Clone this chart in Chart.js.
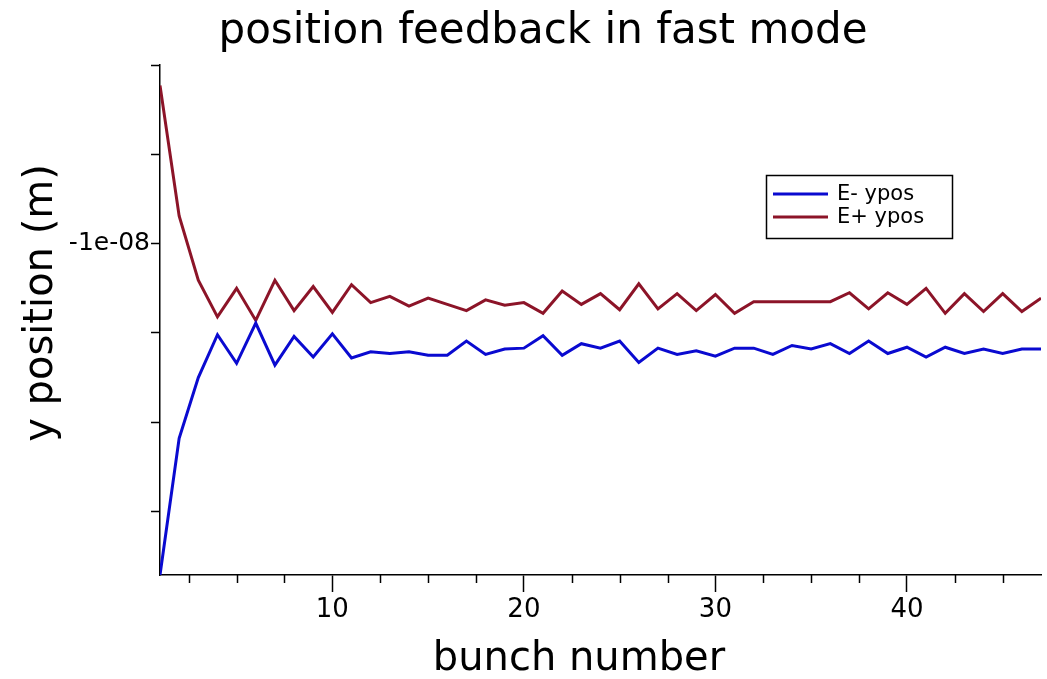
<!DOCTYPE html>
<html>
<head>
<meta charset="utf-8">
<script src="https://cdn.jsdelivr.net/npm/chart.js@4/dist/chart.umd.min.js"></script>
<style>
  html, body { margin: 0; padding: 0; background: #fff; }
  #wrap { width: 1047px; height: 679px; }
</style>
</head>
<body>
<div id="wrap"><canvas id="fbChart" width="1047" height="679"></canvas></div>
<script>
// bunch numbers 1..47
const bunches = [1,2,3,4,5,6,7,8,9,10,11,12,13,14,15,16,17,18,19,20,21,22,23,24,25,26,27,28,29,30,31,32,33,34,35,36,37,38,39,40,41,42,43,44,45,46,47];

// y position (m)
const eMinusYpos = [
  -13.71e-9, -12.18e-9, -11.50e-9, -11.02e-9, -11.34e-9, -10.89e-9, -11.36e-9, -11.04e-9, -11.27e-9, -11.01e-9,
  -11.28e-9, -11.21e-9, -11.23e-9, -11.21e-9, -11.25e-9, -11.25e-9, -11.09e-9, -11.24e-9, -11.18e-9, -11.17e-9,
  -11.03e-9, -11.25e-9, -11.12e-9, -11.17e-9, -11.09e-9, -11.33e-9, -11.17e-9, -11.24e-9, -11.20e-9, -11.26e-9,
  -11.17e-9, -11.17e-9, -11.24e-9, -11.14e-9, -11.18e-9, -11.12e-9, -11.23e-9, -11.09e-9, -11.23e-9, -11.16e-9,
  -11.27e-9, -11.16e-9, -11.23e-9, -11.18e-9, -11.23e-9, -11.18e-9, -11.18e-9
];
const ePlusYpos = [
  -8.23e-9, -9.69e-9, -10.41e-9, -10.82e-9, -10.50e-9, -10.86e-9, -10.41e-9, -10.75e-9, -10.48e-9, -10.77e-9,
  -10.46e-9, -10.66e-9, -10.59e-9, -10.70e-9, -10.61e-9, -10.68e-9, -10.75e-9, -10.63e-9, -10.69e-9, -10.66e-9,
  -10.78e-9, -10.53e-9, -10.68e-9, -10.56e-9, -10.74e-9, -10.45e-9, -10.73e-9, -10.56e-9, -10.75e-9, -10.57e-9,
  -10.78e-9, -10.65e-9, -10.65e-9, -10.65e-9, -10.65e-9, -10.65e-9, -10.55e-9, -10.73e-9, -10.55e-9, -10.68e-9,
  -10.50e-9, -10.78e-9, -10.56e-9, -10.76e-9, -10.56e-9, -10.76e-9, -10.61e-9
];

const xTickValues = [2.5, 5, 7.5, 10, 12.5, 15, 17.5, 20, 22.5, 25, 27.5, 30, 32.5, 35, 37.5, 40, 42.5, 45];
const yTickValues = [-13e-9, -12e-9, -11e-9, -10e-9, -9e-9, -8e-9];

const FONT = "'DejaVu Sans', sans-serif";

// titles, minor ticks and the boxed legend, drawn like the original figure
const decorations = {
  id: 'decorations',
  afterDraw(chart) {
    const c = chart.ctx;
    const area = chart.chartArea;
    const xs = chart.scales.x;

    c.save();
    c.strokeStyle = '#000';
    c.lineWidth = 1.5;
    xs.ticks.forEach(t => {
      if (t.value % 10 === 0) return;
      const px = Math.round(xs.getPixelForValue(t.value)) + 0.5;
      c.beginPath();
      c.moveTo(px, area.bottom);
      c.lineTo(px, area.bottom + 8);
      c.stroke();
    });

    c.fillStyle = '#000';
    c.textAlign = 'center';
    c.textBaseline = 'middle';
    c.font = '42px ' + FONT;
    c.fillText('position feedback in fast mode', 543, 32);
    c.font = '40px ' + FONT;
    c.fillText('bunch number', 579, 660);
    c.translate(42, 303);
    c.rotate(-Math.PI / 2);
    c.font = '40px ' + FONT;
    c.fillText('y position (m)', 0, 0);
    c.restore();

    // legend box
    c.save();
    c.fillStyle = '#fff';
    c.fillRect(766, 175, 186, 63);
    c.strokeStyle = '#000';
    c.lineWidth = 1.5;
    c.strokeRect(766.5, 175.5, 186, 63);
    c.font = '21px ' + FONT;
    c.textAlign = 'left';
    c.textBaseline = 'middle';
    chart.data.datasets.forEach((ds, i) => {
      const y = 194 + i * 23;
      c.strokeStyle = ds.borderColor;
      c.lineWidth = 3;
      c.beginPath();
      c.moveTo(773, y);
      c.lineTo(828, y);
      c.stroke();
      c.fillStyle = '#000';
      c.fillText(ds.label, 837, y + 1);
    });
    c.restore();
  }
};

new Chart(document.getElementById('fbChart').getContext('2d'), {
  type: 'line',
  data: {
    labels: bunches,
    datasets: [
      {
        label: 'E- ypos',
        data: bunches.map((b, i) => ({ x: b, y: eMinusYpos[i] })),
        borderColor: '#0a0ad0',
        borderWidth: 3,
        pointRadius: 0,
        tension: 0,
        fill: false
      },
      {
        label: 'E+ ypos',
        data: bunches.map((b, i) => ({ x: b, y: ePlusYpos[i] })),
        borderColor: '#8c1428',
        borderWidth: 3,
        pointRadius: 0,
        tension: 0,
        fill: false
      }
    ]
  },
  options: {
    responsive: false,
    animation: false,
    layout: { padding: { left: 0, top: 65, right: 6, bottom: 0 } },
    plugins: {
      legend: { display: false },
      title: { display: false },
      tooltip: { enabled: false }
    },
    scales: {
      x: {
        type: 'linear',
        min: 1,
        max: 47,
        afterBuildTicks: s => { s.ticks = xTickValues.map(v => ({ value: v })); },
        afterFit: s => { s.height = 104; },
        grid: {
          drawOnChartArea: false,
          tickLength: 17,
          tickWidth: 1.5,
          tickColor: ctx => (ctx.tick && ctx.tick.value % 10 === 0) ? '#000' : 'rgba(0,0,0,0)'
        },
        border: { color: '#000', width: 1.5 },
        ticks: {
          autoSkip: false,
          maxRotation: 0,
          padding: 3,
          color: '#000',
          font: { family: FONT, size: 26 },
          callback: v => (v % 10 === 0 ? String(v) : '')
        }
      },
      y: {
        type: 'linear',
        min: -13.71e-9,
        max: -8e-9,
        afterBuildTicks: s => { s.ticks = yTickValues.map(v => ({ value: v })); },
        afterFit: s => { s.width = 160; },
        grid: {
          drawOnChartArea: false,
          tickLength: 9,
          tickWidth: 1.5,
          tickColor: '#000'
        },
        border: { color: '#000', width: 1.5 },
        ticks: {
          autoSkip: false,
          padding: 1,
          color: '#000',
          font: { family: FONT, size: 25 },
          callback: v => (Math.abs(v + 1e-8) < 1e-12 ? '-1e-08' : '')
        }
      }
    }
  },
  plugins: [decorations]
});
</script>
</body>
</html>
